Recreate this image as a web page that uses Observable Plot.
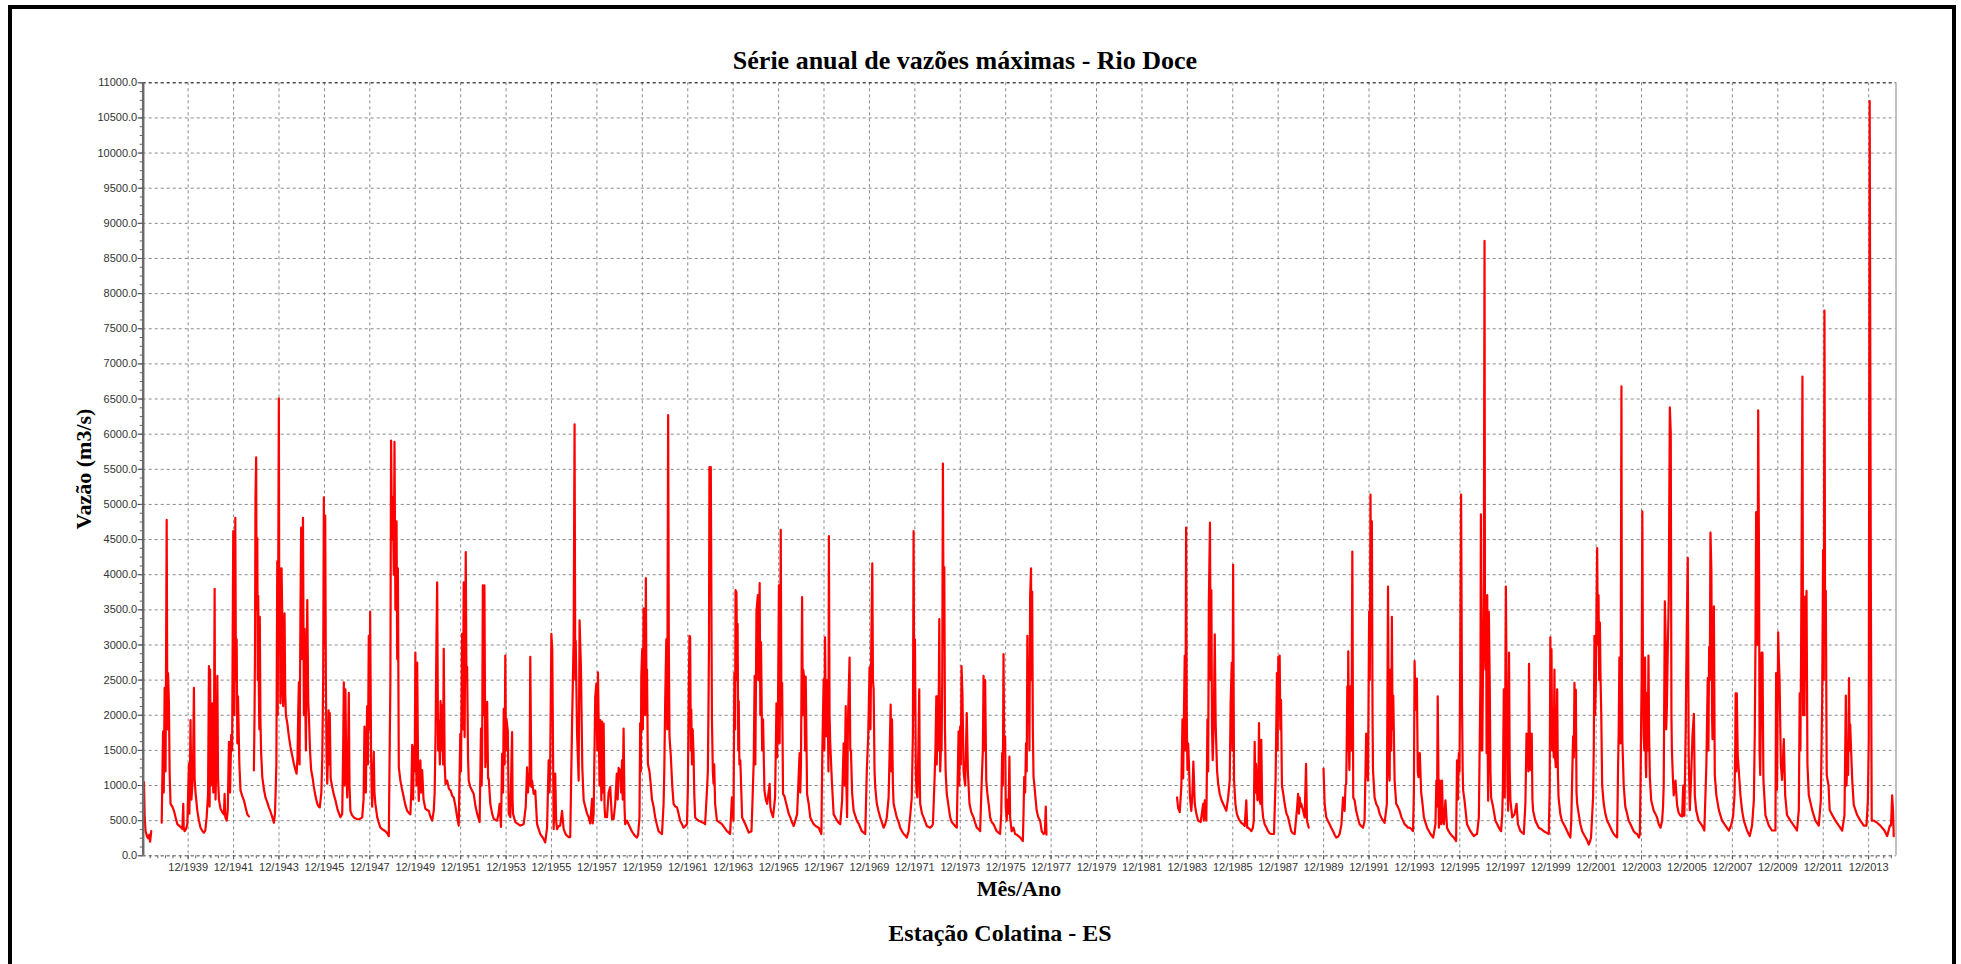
<!DOCTYPE html>
<html><head><meta charset="utf-8">
<script src="https://cdn.jsdelivr.net/npm/d3@7"></script>
<script src="https://cdn.jsdelivr.net/npm/@observablehq/plot@0.6"></script>
<style>
body{margin:0;background:#fff;overflow:hidden;}
#wrap{position:relative;width:1961px;height:964px;overflow:hidden;}
#chart{position:absolute;left:0;top:0;}
#frame{position:absolute;left:8px;top:5px;width:1948px;height:1100px;border:4.5px solid #000;box-sizing:border-box;pointer-events:none;}
.t{position:absolute;font-family:"Liberation Serif","Times New Roman",serif;font-weight:bold;color:#000;white-space:nowrap;line-height:1;transform:translate(-50%,-50%);}
#title{left:965px;top:61px;font-size:26px;}
#ylab{left:84px;top:469px;font-size:22px;transform:translate(-50%,-50%) rotate(-90deg);}
#xlab{left:1019px;top:889px;font-size:22px;}
#cap{left:1000px;top:933px;font-size:24px;}
</style></head>
<body><div id="wrap"><div id="chart"></div>
<div class="t" id="title">Série anual de vazões máximas - Rio Doce</div>
<div class="t" id="ylab">Vazão (m3/s)</div>
<div class="t" id="xlab">Mês/Ano</div>
<div class="t" id="cap">Estação Colatina - ES</div>
<div id="frame"></div></div>
<script>
// Tick labels
const anosTicks = d3.range(1939, 2014, 2); // labelled "12/AAAA"
const vazaoTicks = d3.range(0, 11001, 500);
const vazaoMinor = d3.range(0, 11001, 125);
const inicio = 1937.935, fim = 2015.12;

// Daily maximum discharge series (decimal year, m3/s); null = gap
const s1930 = [
[1937.97,1050],[1938.00,550],[1938.04,350],[1938.10,280],[1938.15,250],[1938.20,300],[1938.24,200],[1938.29,350],[1938.30,null],
[1938.75,470],[1938.81,1770],[1938.84,900],[1938.88,2390],[1938.92,1200],[1938.97,4780],[1939.00,1800],[1939.03,2600],[1939.07,2150],[1939.10,1170],[1939.14,740],[1939.22,700],[1939.29,640],[1939.36,550],[1939.44,450],[1939.55,420],[1939.66,380],[1939.70,740],[1939.72,400],[1939.76,350],[1939.82,380],[1939.88,450],[1939.95,1310],[1939.97,600],[1939.99,1000]];
const s1940 = [
[1940.02,1930],[1940.06,800],[1940.10,1000],[1940.14,1500],[1940.17,2390],[1940.20,1100],[1940.24,900],[1940.32,640],[1940.39,500],[1940.46,400],[1940.55,350],[1940.61,330],[1940.67,360],[1940.73,550],[1940.79,880],[1940.83,2700],[1940.86,700],[1940.88,2650],[1940.92,1000],[1940.98,2170],[1941.02,900],[1941.05,1600],[1941.08,3800],[1941.10,1500],[1941.12,800],[1941.16,1400],[1941.20,2560],[1941.23,1100],[1941.27,800],[1941.34,670],[1941.42,620],[1941.49,590],[1941.52,880],[1941.55,550],[1941.61,500],[1941.66,650],[1941.71,1620],[1941.76,900],[1941.81,1720],[1941.85,1500],[1941.90,4620],[1941.95,2000],[1941.99,4810],[1942.02,2500],[1942.05,3080],[1942.08,1600],[1942.11,2270],[1942.17,1300],[1942.22,930],[1942.30,850],[1942.37,790],[1942.45,680],[1942.52,590],[1942.59,560],[1942.60,null],
[1942.81,1215],[1942.84,2050],[1942.86,3000],[1942.88,5100],[1942.91,5670],[1942.93,3500],[1942.96,4520],[1942.98,2500],[1943.00,3700],[1943.03,2320],[1943.05,1800],[1943.07,3400],[1943.10,1900],[1943.13,1460],[1943.18,1120],[1943.25,950],[1943.32,830],[1943.40,760],[1943.47,690],[1943.55,620],[1943.62,550],[1943.69,470],[1943.74,600],[1943.76,830],[1943.80,1300],[1943.84,4190],[1943.86,2000],[1943.91,6510],[1943.93,3000],[1943.95,4090],[1943.98,2170],[1944.00,2900],[1944.03,4090],[1944.06,3400],[1944.08,2300],[1944.10,2130],[1944.13,2700],[1944.16,3450],[1944.19,2300],[1944.22,2000],[1944.28,1890],[1944.35,1700],[1944.42,1550],[1944.50,1420],[1944.57,1310],[1944.63,1230],[1944.69,1170],[1944.73,1400],[1944.76,2000],[1944.79,2470],[1944.82,1300],[1944.86,3500],[1944.89,4670],[1944.92,2800],[1944.97,4810],[1945.01,2000],[1945.04,3230],[1945.07,2200],[1945.10,1500],[1945.13,2800],[1945.16,3640],[1945.20,2200],[1945.23,2000],[1945.28,1500],[1945.33,1220],[1945.40,1100],[1945.45,980],[1945.52,850],[1945.60,740],[1945.66,700],[1945.71,690],[1945.78,900],[1945.82,1400],[1945.86,2500],[1945.89,5100],[1945.91,3000],[1945.95,4840],[1945.98,2450],[1946.01,1400],[1946.04,1025],[1946.08,1500],[1946.10,2070],[1946.13,1300],[1946.15,2030],[1946.19,1100],[1946.26,980],[1946.33,870],[1946.40,790],[1946.50,650],[1946.62,550],[1946.70,600],[1946.74,1500],[1946.77,2470],[1946.80,1000],[1946.84,2370],[1946.88,1200],[1946.92,830],[1946.96,1500],[1946.99,2320],[1947.02,1000],[1947.06,640],[1947.13,580],[1947.21,546],[1947.30,530],[1947.36,522],[1947.45,520],[1947.58,546],[1947.64,800],[1947.68,1840],[1947.71,1000],[1947.74,900],[1947.77,1600],[1947.80,2130],[1947.83,1300],[1947.87,3130],[1947.90,1800],[1947.93,3470],[1947.97,1456],[1948.00,900],[1948.02,700],[1948.06,1100],[1948.09,1480],[1948.12,900],[1948.16,738],[1948.24,550],[1948.30,480],[1948.38,400],[1948.50,370],[1948.60,350],[1948.68,320],[1948.75,280],[1948.79,1550],[1948.82,2500],[1948.85,5910],[1948.89,4500],[1948.93,5100],[1948.97,4000],[1949.00,5890],[1949.04,3500],[1949.09,4760],[1949.12,2800],[1949.15,4090],[1949.19,1260],[1949.26,1070],[1949.33,950],[1949.41,830],[1949.48,720],[1949.56,640],[1949.63,610],[1949.70,590],[1949.74,900],[1949.78,1580],[1949.82,800],[1949.85,1550],[1949.89,1200],[1949.92,2890],[1949.97,1000]];
const s1950 = [
[1950.00,2750],[1950.04,1200],[1950.07,780],[1950.11,1100],[1950.14,1360],[1950.18,900],[1950.22,1220],[1950.28,800],[1950.36,670],[1950.44,650],[1950.51,640],[1950.58,560],[1950.66,500],[1950.73,640],[1950.77,900],[1950.81,1760],[1950.85,3110],[1950.88,3890],[1950.92,1500],[1950.95,1925],[1951.00,1300],[1951.03,2200],[1951.07,1500],[1951.10,2140],[1951.14,1300],[1951.17,2945],[1951.21,1300],[1951.25,1020],[1951.32,1070],[1951.40,950],[1951.47,930],[1951.55,850],[1951.61,830],[1951.69,700],[1951.76,550],[1951.83,430],
[1951.90,1735],[1951.93,1200],[1951.98,3160],[1952.02,1800],[1952.05,3890],[1952.09,1690],[1952.14,4320],[1952.17,2500],[1952.20,2690],[1952.24,1400],[1952.27,1070],[1952.34,980],[1952.49,880],[1952.57,700],[1952.64,600],[1952.75,480],[1952.81,1810],[1952.84,1000],[1952.86,1450],[1952.89,3850],[1952.93,2000],[1952.96,3850],[1953.00,1260],[1953.04,1500],[1953.08,2190],[1953.12,1100],[1953.15,1100],[1953.22,740],[1953.30,600],[1953.37,525],[1953.45,510],[1953.52,500],[1953.58,600],[1953.63,740],[1953.69,410],[1953.74,1450],[1953.78,900],[1953.81,2090],[1953.85,1300],[1953.88,2850],[1953.91,1500],[1953.93,1950],[1953.99,1780],[1954.03,600],[1954.10,550],[1954.18,1760],[1954.20,800],[1954.22,600],[1954.32,480],[1954.45,450],[1954.54,430],[1954.69,450],[1954.78,700],[1954.84,1260],[1954.88,900],[1954.91,1170],[1954.95,1000],[1954.98,2830],[1955.03,980],[1955.06,1070],[1955.13,880],[1955.20,930],[1955.28,450],[1955.35,380],[1955.42,310],[1955.55,250],[1955.64,190],[1955.72,400],[1955.79,1360],[1955.83,900],[1955.86,1360],[1955.91,3160],[1955.95,2920],[1956.01,380],[1956.05,800],[1956.08,1170],[1956.12,500],[1956.16,380],[1956.23,420],[1956.30,430],[1956.38,640],[1956.45,380],[1956.55,300],[1956.67,265],[1956.74,265],[1956.82,1880],[1956.89,3110],[1956.93,6140],[1956.96,2500],[1956.98,3060],[1957.04,1735],[1957.11,1070],[1957.15,3350],[1957.21,2690],[1957.27,1260],[1957.33,790],[1957.40,700],[1957.48,600],[1957.55,550],[1957.62,460],[1957.70,810],[1957.73,460],[1957.77,600],[1957.84,2260],[1957.89,2450],[1957.93,1500],[1957.96,2610],[1957.99,1930],[1958.03,1000],[1958.06,1930],[1958.11,790],[1958.14,1910],[1958.17,900],[1958.21,1880],[1958.25,700],[1958.28,550],[1958.36,550],[1958.43,900],[1958.50,980],[1958.53,800],[1958.58,520],[1958.65,520],[1958.72,740],[1958.79,1170],[1958.83,800],[1958.87,1250],[1958.94,1210],[1958.98,900],[1959.02,1360],[1959.05,800],[1959.09,1810],[1959.13,700],[1959.16,450],[1959.24,500],[1959.31,450],[1959.38,400],[1959.45,350],[1959.53,310],[1959.60,280],[1959.68,260],[1959.73,300],[1959.79,546],[1959.82,1890],[1959.85,1200],[1959.87,2560],[1959.91,2940],[1959.94,1800],[1959.97,3520]];
const s1960 = [
[1960.01,3180],[1960.04,2000],[1960.07,3950],[1960.10,2200],[1960.12,2650],[1960.16,1310],[1960.23,1200],[1960.29,1000],[1960.34,800],[1960.41,700],[1960.48,550],[1960.55,450],[1960.63,350],[1960.70,330],[1960.78,310],[1960.85,740],[1960.88,1200],[1960.92,2200],[1960.97,3080],[1961.01,1800],[1961.05,6270],[1961.08,3000],[1961.11,1700],[1961.17,1410],[1961.23,1000],[1961.29,740],[1961.37,700],[1961.44,690],[1961.51,600],[1961.58,500],[1961.66,450],[1961.73,400],[1961.80,420],[1961.88,450],[1961.92,980],[1961.96,2370],[1961.99,3130],[1962.02,3110],[1962.05,1500],[1962.07,2080],[1962.10,1300],[1962.13,1800],[1962.17,1460],[1962.20,900],[1962.24,546],[1962.32,520],[1962.39,500],[1962.47,490],[1962.54,475],[1962.61,470],[1962.68,450],[1962.76,930],[1962.80,1200],[1962.83,2220],[1962.85,3000],[1962.87,5530],[1962.90,4000],[1962.93,5530],[1962.98,1940],[1963.02,1200],[1963.05,1025],[1963.08,1300],[1963.12,740],[1963.20,500],[1963.30,480],[1963.42,450],[1963.53,400],[1963.64,350],[1963.72,330],[1963.78,310],[1963.86,830],[1963.90,600],[1963.93,500],[1963.97,2600],[1964.00,1800],[1964.02,3780],[1964.06,3750],[1964.09,2500],[1964.11,3300],[1964.14,1500],[1964.16,2200],[1964.19,1300],[1964.23,1360],[1964.31,546],[1964.45,450],[1964.60,330],[1964.72,350],[1964.77,830],[1964.82,1360],[1964.86,2560],[1964.89,1300],[1964.94,3470],[1965.00,3710],[1965.02,2500],[1965.04,3000],[1965.08,3880],[1965.11,2000],[1965.14,3040],[1965.19,1500],[1965.23,1940],[1965.29,930],[1965.35,800],[1965.41,740],[1965.52,1025],[1965.55,700],[1965.58,640],[1965.67,550],[1965.76,830],[1965.82,2170],[1965.85,1400],[1965.89,2220],[1965.93,3850],[1965.96,1600],[1965.98,2410],[1966.01,4640],[1966.04,2000],[1966.07,2460],[1966.11,880],[1966.17,850],[1966.29,690],[1966.36,600],[1966.43,546],[1966.50,480],[1966.58,425],[1966.65,500],[1966.73,590],[1966.84,1460],[1966.87,900],[1966.90,1300],[1966.95,3680],[1966.98,2000],[1967.00,2650],[1967.05,2510],[1967.08,1500],[1967.11,2550],[1967.17,880],[1967.24,740],[1967.31,546],[1967.38,500],[1967.46,450],[1967.56,420],[1967.68,400],[1967.80,310],[1967.84,1460],[1967.90,2510],[1967.93,1500],[1967.96,3110],[1968.00,1800],[1968.02,1700],[1968.07,2500],[1968.11,1200],[1968.13,4550],[1968.16,2000],[1968.19,1600],[1968.26,1070],[1968.34,590],[1968.41,550],[1968.49,500],[1968.56,470],[1968.63,450],[1968.71,785],[1968.78,1600],[1968.82,1000],[1968.87,2130],[1968.90,1000],[1968.93,550],[1968.97,1940],[1969.04,2820],[1969.07,1500],[1969.10,1500],[1969.15,900],[1969.22,640],[1969.30,560],[1969.36,500],[1969.45,450],[1969.58,350],[1969.66,330],[1969.73,310],[1969.80,1220],[1969.86,1700],[1969.92,2680],[1969.96,1800]];
const s1970 = [
[1970.00,3110],[1970.04,4160],[1970.07,2500],[1970.10,2370],[1970.14,1200],[1970.17,980],[1970.24,740],[1970.31,640],[1970.39,546],[1970.46,480],[1970.54,400],[1970.61,450],[1970.68,546],[1970.76,830],[1970.80,1410],[1970.85,2150],[1970.88,1200],[1970.91,1940],[1970.95,1000],[1970.98,740],[1971.05,640],[1971.12,546],[1971.20,480],[1971.27,400],[1971.35,350],[1971.42,310],[1971.49,290],[1971.56,260],[1971.64,350],[1971.72,600],[1971.78,830],[1971.83,1740],[1971.86,4620],[1971.89,2000],[1971.92,3080],[1971.96,1200],[1971.99,900],[1972.03,830],[1972.07,1500],[1972.11,2370],[1972.13,1200],[1972.15,740],[1972.23,600],[1972.30,546],[1972.38,480],[1972.44,425],[1972.52,410],[1972.59,400],[1972.66,420],[1972.71,450],[1972.78,1070],[1972.82,1500],[1972.86,2270],[1972.88,1300],[1972.91,2270],[1972.95,1500],[1972.99,3370],[1973.03,1200],[1973.06,1500],[1973.09,1500],[1973.12,2500],[1973.15,5580],[1973.18,3000],[1973.21,4110],[1973.24,1800],[1973.27,1200],[1973.32,880],[1973.40,700],[1973.47,546],[1973.54,480],[1973.62,450],[1973.69,420],[1973.76,400],[1973.84,1770],[1973.87,1000],[1973.91,1840],[1973.94,1300],[1973.97,2700],[1974.01,2300],[1974.06,1200],[1974.13,1000],[1974.20,2030],[1974.25,1200],[1974.32,740],[1974.40,620],[1974.50,546],[1974.57,470],[1974.64,400],[1974.72,380],[1974.79,350],[1974.86,1070],[1974.91,1500],[1974.94,2560],[1974.98,1500],[1975.01,2500],[1975.06,1070],[1975.11,880],[1975.18,700],[1975.23,546],[1975.30,480],[1975.38,450],[1975.45,400],[1975.52,350],[1975.60,330],[1975.67,310],[1975.72,600],[1975.76,1460],[1975.79,1000],[1975.82,2870],[1975.85,1500],[1975.89,1700],[1975.92,700],[1975.96,500],[1976.00,800],[1976.04,600],[1976.08,1410],[1976.11,546],[1976.18,350],[1976.26,400],[1976.33,310],[1976.40,300],[1976.48,280],[1976.55,260],[1976.62,230],[1976.67,210],[1976.70,600],[1976.73,1120],[1976.77,900],[1976.81,1600],[1976.84,1200],[1976.87,3130],[1976.90,2000],[1976.93,2410],[1976.96,1500],[1976.99,3680],[1977.03,4090],[1977.05,2500],[1977.08,3760],[1977.11,1800],[1977.14,1120],[1977.18,1000],[1977.21,880],[1977.28,640],[1977.35,550],[1977.43,500],[1977.50,350],[1977.58,310],[1977.64,330],[1977.68,700],[1977.71,300],[1977.72,null]];
const s1980 = [
[1983.46,830],[1983.51,680],[1983.58,620],[1983.65,980],[1983.70,1940],[1983.73,1100],[1983.76,1900],[1983.80,2850],[1983.83,1500],[1983.86,4670],[1983.89,1940],[1983.92,1220],[1983.95,1600],[1983.98,1370],[1984.03,830],[1984.09,640],[1984.14,900],[1984.18,1340],[1984.24,740],[1984.31,600],[1984.39,500],[1984.50,480],[1984.61,740],[1984.64,500],[1984.68,790],[1984.75,500],[1984.80,1940],[1984.83,1200],[1984.86,3610],[1984.91,4740],[1984.94,2500],[1984.97,3780],[1985.00,1800],[1985.03,1360],[1985.08,1940],[1985.12,3150],[1985.16,1890],[1985.22,1220],[1985.27,1025],[1985.34,880],[1985.42,790],[1985.49,740],[1985.56,690],[1985.63,640],[1985.71,830],[1985.78,1075],[1985.82,2170],[1985.87,2750],[1985.90,1500],[1985.93,4140],[1985.97,1075],[1986.03,740],[1986.09,600],[1986.15,546],[1986.22,500],[1986.29,470],[1986.37,450],[1986.44,425],[1986.51,790],[1986.55,400],[1986.59,400],[1986.66,380],[1986.73,350],[1986.80,400],[1986.84,500],[1986.88,1620],[1986.91,900],[1986.94,1310],[1987.00,790],[1987.04,900],[1987.07,1890],[1987.10,800],[1987.13,740],[1987.17,1650],[1987.21,700],[1987.25,550],[1987.32,450],[1987.40,400],[1987.47,350],[1987.54,320],[1987.61,310],[1987.73,310],[1987.80,1070],[1987.83,1800],[1987.86,2600],[1987.89,1500],[1987.92,2830],[1987.95,2000],[1987.98,2850],[1988.01,1800],[1988.04,2220],[1988.08,1000],[1988.14,880],[1988.20,740],[1988.28,600],[1988.35,550],[1988.42,450],[1988.49,350],[1988.56,320],[1988.64,310],[1988.71,550],[1988.75,700],[1988.79,880],[1988.83,600],[1988.86,830],[1988.90,700],[1988.93,740],[1989.01,640],[1989.08,546],[1989.14,1310],[1989.18,500],[1989.26,400],[1989.27,null],
[1989.91,1240],[1989.96,740]];
const s1990 = [
[1990.03,550],[1990.10,500],[1990.18,450],[1990.25,400],[1990.33,350],[1990.40,300],[1990.47,260],[1990.55,270],[1990.62,310],[1990.70,450],[1990.77,830],[1990.80,700],[1990.84,640],[1990.88,1000],[1990.91,1025],[1990.94,1800],[1990.96,2410],[1990.98,1500],[1991.00,2910],[1991.03,1500],[1991.05,1220],[1991.10,2410],[1991.14,1500],[1991.18,4330],[1991.22,830],[1991.28,790],[1991.35,640],[1991.42,546],[1991.50,450],[1991.58,420],[1991.65,400],[1991.72,500],[1991.79,1740],[1991.83,1200],[1991.87,1070],[1991.92,3470],[1991.95,2500],[1991.98,5140],[1992.01,3000],[1992.04,4760],[1992.07,2000],[1992.09,1220],[1992.16,830],[1992.23,740],[1992.31,690],[1992.38,600],[1992.45,546],[1992.53,500],[1992.60,470],[1992.70,740],[1992.75,3830],[1992.79,1200],[1992.82,1070],[1992.86,2650],[1992.89,1500],[1992.92,3400],[1992.95,1800],[1992.98,2280],[1993.04,1070],[1993.11,740],[1993.18,700],[1993.26,640],[1993.34,550],[1993.41,500],[1993.48,450],[1993.55,430],[1993.63,400],[1993.70,400],[1993.78,380],[1993.85,350],[1993.89,900],[1993.92,2770],[1993.96,2080],[1994.02,2520],[1994.06,1200],[1994.09,1120],[1994.15,1460],[1994.21,900],[1994.25,800],[1994.33,546],[1994.47,400],[1994.62,310],[1994.74,260],[1994.84,450],[1994.88,1070],[1994.91,700],[1994.94,2270],[1994.99,400],[1995.03,1070],[1995.06,500],[1995.09,450],[1995.13,1070],[1995.17,500],[1995.21,450],[1995.28,790],[1995.35,400],[1995.42,350],[1995.50,310],[1995.58,280],[1995.65,260],[1995.75,210],[1995.79,1360],[1995.83,800],[1995.87,1460],[1995.90,1200],[1995.93,2770],[1995.97,5140],[1996.01,2170],[1996.04,1200],[1996.06,930],[1996.12,790],[1996.23,450],[1996.38,350],[1996.53,280],[1996.60,300],[1996.67,310],[1996.75,546],[1996.79,1650],[1996.82,2500],[1996.84,4860],[1996.87,1500],[1996.90,1500],[1996.94,2940],[1996.97,4000],[1997.00,8750],[1997.02,3000],[1997.04,2650],[1997.07,3700],[1997.09,1460],[1997.12,3710],[1997.14,1500],[1997.16,785],[1997.19,3470],[1997.23,2420],[1997.26,1200],[1997.29,830],[1997.38,690],[1997.48,500],[1997.56,450],[1997.63,400],[1997.73,350],[1997.78,590],[1997.81,1000],[1997.85,2370],[1997.89,830],[1997.94,3830],[1997.98,2080],[1998.01,1000],[1998.04,640],[1998.08,2890],[1998.11,1200],[1998.14,790],[1998.22,546],[1998.32,590],[1998.41,740],[1998.47,450],[1998.58,350],[1998.66,330],[1998.73,310],[1998.80,740],[1998.85,1740],[1998.88,1500],[1998.90,1550],[1998.93,1200],[1998.96,2730],[1999.00,1500],[1999.02,1220],[1999.08,1740],[1999.11,800],[1999.14,640],[1999.24,500],[1999.39,400],[1999.50,380],[1999.61,350],[1999.72,330],[1999.83,310],[1999.87,930],[1999.90,3110],[1999.92,2000],[1999.95,2940],[1999.98,1500]];
const s2000 = [
[2000.01,1790],[2000.05,1400],[2000.08,2650],[2000.11,1400],[2000.14,1260],[2000.17,1500],[2000.20,2370],[2000.23,1200],[2000.26,830],[2000.34,590],[2000.41,500],[2000.49,450],[2000.57,400],[2000.64,350],[2000.71,300],[2000.78,260],[2000.82,500],[2000.86,1120],[2000.90,1700],[2000.93,1400],[2000.96,2460],[2000.99,1500],[2001.02,2360],[2001.05,900],[2001.08,740],[2001.15,590],[2001.22,450],[2001.30,350],[2001.38,300],[2001.45,260],[2001.52,220],[2001.59,160],[2001.64,200],[2001.69,260],[2001.78,830],[2001.81,1500],[2001.84,3130],[2001.87,2000],[2001.90,2410],[2001.93,3500],[2001.96,4380],[2001.99,3000],[2002.02,3710],[2002.05,2500],[2002.08,3320],[2002.11,2500],[2002.14,2030],[2002.18,1000],[2002.25,740],[2002.32,600],[2002.40,500],[2002.48,450],[2002.55,400],[2002.62,350],[2002.69,310],[2002.77,280],[2002.84,260],[2002.88,1240],[2002.91,1800],[2002.94,2820],[2002.97,1600],[2002.99,1600],[2003.03,6680],[2003.05,2500],[2003.07,1650],[2003.13,1000],[2003.20,700],[2003.28,600],[2003.35,500],[2003.43,450],[2003.50,400],[2003.57,350],[2003.65,320],[2003.72,310],[2003.80,260],[2003.84,300],[2003.87,1000],[2003.90,1960],[2003.92,2500],[2003.95,4900],[2003.98,2500],[2004.01,1700],[2004.04,1500],[2004.07,2820],[2004.10,1300],[2004.12,1120],[2004.16,2320],[2004.19,1500],[2004.22,2850],[2004.25,1700],[2004.28,1120],[2004.34,790],[2004.45,640],[2004.52,600],[2004.60,546],[2004.67,450],[2004.75,400],[2004.82,500],[2004.86,700],[2004.89,1000],[2004.94,3620],[2004.98,2970],[2005.00,1800],[2005.03,2130],[2005.07,2970],[2005.11,3620],[2005.16,6380],[2005.20,6020],[2005.23,2000],[2005.25,1500],[2005.29,1150],[2005.33,860],[2005.41,1070],[2005.48,720],[2005.55,610],[2005.63,570],[2005.70,560],[2005.75,1000],[2005.78,570],[2005.80,570],[2005.86,1810],[2005.88,2500],[2005.91,3330],[2005.95,4240],[2005.99,1440],[2006.04,650],[2006.10,1150],[2006.16,1730],[2006.22,2020],[2006.26,860],[2006.32,650],[2006.43,500],[2006.58,430],[2006.68,360],[2006.77,1300],[2006.83,2530],[2006.86,1500],[2006.89,2970],[2006.92,2500],[2006.95,4600],[2006.99,4060],[2007.02,2000],[2007.04,1660],[2007.07,2500],[2007.10,3550],[2007.14,1150],[2007.21,860],[2007.32,650],[2007.46,500],[2007.61,430],[2007.76,360],[2007.86,430],[2007.95,570],[2008.01,860],[2008.04,1500],[2008.06,2310],[2008.09,1200],[2008.11,2310],[2008.15,1440],[2008.21,1150],[2008.27,860],[2008.34,650],[2008.42,500],[2008.56,360],[2008.68,280],[2008.78,430],[2008.86,790],[2008.90,1730],[2008.93,3000],[2008.96,4890],[2009.00,3990],[2009.02,3000],[2009.05,6340],[2009.09,3990],[2009.11,1500],[2009.14,1150],[2009.17,2000],[2009.20,2890],[2009.24,2890],[2009.28,1080],[2009.37,580],[2009.52,430],[2009.66,360],[2009.81,360],[2009.84,2600],[2009.88,940],[2009.93,3180],[2009.96,2800],[2009.99,2530]];
const s2010 = [
[2010.05,1300],[2010.10,1080],[2010.18,1660],[2010.24,860],[2010.32,580],[2010.47,500],[2010.62,430],[2010.76,360],[2010.84,650],[2010.88,2310],[2010.91,1500],[2010.94,2820],[2011.00,6820],[2011.03,2000],[2011.06,2820],[2011.09,2000],[2011.12,3690],[2011.15,2500],[2011.18,3770],[2011.22,1300],[2011.28,860],[2011.43,650],[2011.57,500],[2011.72,430],[2011.81,790],[2011.87,2240],[2011.91,4350],[2011.94,2500],[2011.97,7760],[2012.00,3000],[2012.03,3770],[2012.07,1150],[2012.15,1000],[2012.20,650],[2012.31,580],[2012.45,500],[2012.60,430],[2012.75,360],[2012.85,580],[2012.91,2280],[2012.94,1000],[2012.97,1300],[2013.01,1150],[2013.05,2530],[2013.08,1500],[2013.10,1870],[2013.14,1520],[2013.19,1080],[2013.26,720],[2013.41,580],[2013.55,500],[2013.70,430],[2013.82,430],[2013.88,790],[2013.92,1660],[2013.96,10740],[2014.01,3990],[2014.05,500],[2014.14,500],[2014.29,470],[2014.43,430],[2014.61,360],[2014.73,280],[2014.85,430],[2014.90,430],[2014.95,860],[2014.99,640],[2015.02,280]];

const toDate = t => { const y = Math.floor(t); const a = Date.UTC(y,0,1), b = Date.UTC(y+1,0,1); return new Date(a + (t - y) * (b - a)); };
const serie = [s1930, s1940, s1950, s1960, s1970, s1980, s1990, s2000, s2010].flat()
  .map(([t, v]) => ({data: toDate(t), vazao: v}));
const xDom = [toDate(inicio), toDate(fim)];
const xMajor = anosTicks.map(a => new Date(Date.UTC(a, 11, 1)));
const xMinor = [];
for (let y = 1937; y <= 2015; y++) for (const m of [3, 7, 11]) { const d = new Date(Date.UTC(y, m, 1)); if (d >= xDom[0] && d <= xDom[1]) xMinor.push(d); }

const dash = {stroke: "#8a8a8a", strokeOpacity: 1, strokeDasharray: "3,3", strokeWidth: 1};
const chart = Plot.plot({
  width: 1961, height: 880,
  marginLeft: 142.7, marginRight: 65.5, marginTop: 82.3, marginBottom: 24.7,
  style: {fontFamily: "'Liberation Sans', Arial, sans-serif", fontSize: "11px", background: "transparent", overflow: "visible"},
  x: {type: "utc", domain: xDom},
  y: {domain: [0, 11000]},
  marks: [
    Plot.gridY(vazaoTicks, dash),
    Plot.gridX(xMajor, dash),
    Plot.ruleY([11000], {stroke: "#222", strokeDasharray: "3,3"}),
    Plot.ruleY([0], {stroke: "#777", strokeDasharray: "3,3"}),
    Plot.ruleX([xDom[1]], {stroke: "#999", strokeWidth: 1.2}),
    Plot.line(serie, {x: "data", y: "vazao", stroke: "#ff0000", strokeWidth: 2.2}),
    Plot.ruleX([xDom[0]], {stroke: "#6b6b6b", strokeWidth: 2.5}),
    Plot.axisY(vazaoTicks, {tickSize: 5, tickPadding: 1, tickFormat: d => d.toFixed(1), color: "#333", label: null}),
    Plot.axisY(vazaoMinor, {tickSize: 3, tickFormat: () => "", color: "#666", label: null}),
    Plot.axisX(xMajor, {tickSize: 4, tickPadding: 3, tickFormat: d3.utcFormat("%m/%Y"), color: "#333", label: null}),
    Plot.axisX(xMinor, {tickSize: 3, tickFormat: () => "", color: "#666", label: null})
  ]
});
document.getElementById("chart").appendChild(chart);
</script></body></html>
